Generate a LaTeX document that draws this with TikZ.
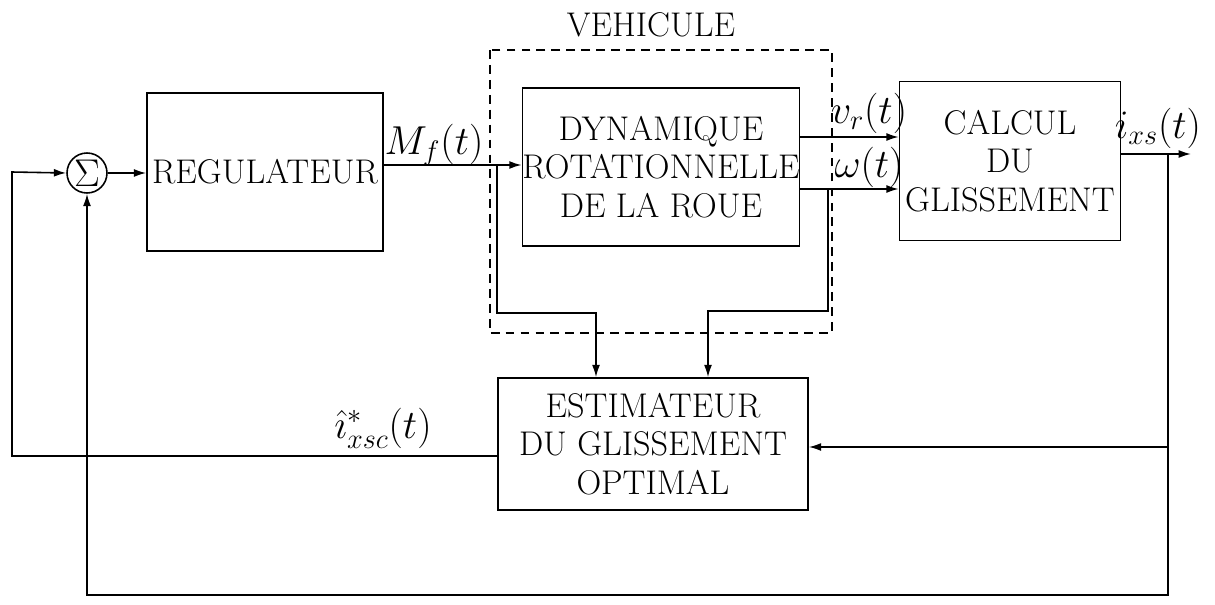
\RequirePackage{fix-cm}
\documentclass[tikz,border=0pt]{standalone}
\usetikzlibrary{arrows.meta}
\begin{document}
\begin{tikzpicture}[x=0.02cm,y=-0.02cm,
  line width=0.9pt,
  every node/.style={font=\fontsize{19.5}{22}\selectfont},
  block/.style={draw,rectangle,align=center,inner sep=0pt},
  arr/.style={-{Latex[length=7pt,width=4.5pt]}},
  lbl/.style={inner sep=0pt,font=\fontsize{23}{26}\selectfont}]
\useasboundingbox (0,0) rectangle (1215,605);
% blocks
\node[draw,circle,minimum size=40*0.02cm,inner sep=0pt,font=\fontsize{22}{24}\selectfont] (sig) at (87,173) {$\Sigma$};
\node[block,minimum width=236*0.02cm,minimum height=158*0.02cm] (reg) at (265,172) {REGULATEUR};
\node[block,minimum width=272*0.02cm,minimum height=158*0.02cm] (dyn) at (661,167) {DYNAMIQUE\\ROTATIONNELLE\\DE LA ROUE};
\node[block,minimum width=221*0.02cm,minimum height=159*0.02cm] (calc) at (1010,161) {CALCUL\\DU\\GLISSEMENT};
\node[block,minimum width=310*0.02cm,minimum height=132*0.02cm] (est) at (653,444) {ESTIMATEUR\\DU GLISSEMENT\\OPTIMAL};
% vehicle dashed frame
\draw[dashed,dash pattern=on 5pt off 3.5pt] (490,50) rectangle (832,333);
\node[inner sep=0pt] (veh) at (651,25) {VEHICULE};
% coordinates
\coordinate (mf) at (497,165);
\coordinate (m1) at (497,313);
\coordinate (m2) at (596,313);
\coordinate (w) at (828,189);
\coordinate (w1) at (828,311);
\coordinate (w2) at (708,311);
\coordinate (o) at (1168,154);
\coordinate (oend) at (1191,154);
\coordinate (o1) at (1168,447);
\coordinate (o2) at (1168,595);
\coordinate (s2) at (87,595);
\coordinate (e1) at (12,456);
\coordinate (e2) at (12,172);
% connectors
\draw[arr] (sig.east) -- (reg.west |- sig.east);
\draw[arr] (reg.east |- mf) -- (dyn.west |- mf);
\draw[arr] (mf) -- (m1) -- (m2) -- (est.north -| m2);
\draw[arr] (dyn.east |- 0,137) -- (calc.west |- 0,137);
\draw[arr] (dyn.east |- w) -- (calc.west |- w);
\draw[arr] (w) -- (w1) -- (w2) -- (est.north -| w2);
\draw[arr] (calc.east |- o) -- (oend);
\draw[arr] (o) -- (o1) -- (est.east |- o1);
\draw[arr] (o1) -- (o2) -- (s2) -- (sig.south);
\draw[arr] (est.west |- e1) -- (e1) -- (e2) -- (sig.west);
% labels
\node[lbl] (lmf) at (434,145) {$M_f(t)$};
\node[lbl] (lvr) at (869,113) {$v_r(t)$};
\node[lbl] (lw) at (869,167) {$\omega(t)$};
\node[lbl] (lixs) at (1158,128) {$i_{xs}(t)$};
\node[lbl] (lest) at (383,428) {$\hat{\imath}^*_{xsc}(t)$};
\end{tikzpicture}
\end{document}
